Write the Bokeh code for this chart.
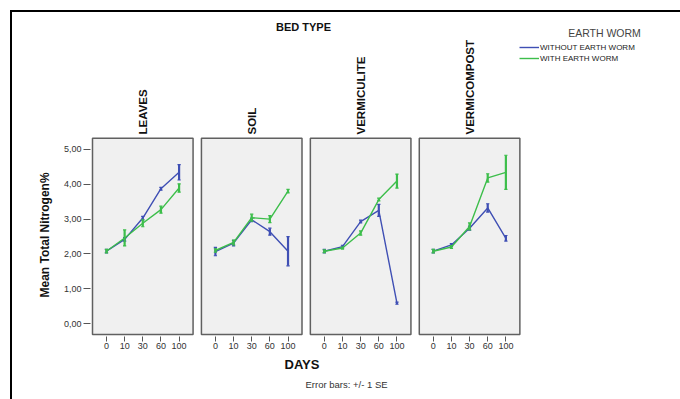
import math
from bokeh.plotting import figure
from bokeh.layouts import column, row
from bokeh.models import (Range1d, FixedTicker, Legend, LegendItem, ColumnDataSource,
                          Title, Spacer, Div)
from bokeh.embed import file_html
from bokeh.resources import INLINE

# ---------------- data ----------------
days = ["0", "10", "30", "60", "100"]
beds = ["LEAVES", "SOIL", "VERMICULITE", "VERMICOMPOST"]
y_ticks = [0, 1, 2, 3, 4, 5]
y_tick_labels = ["0,00", "1,00", "2,00", "3,00", "4,00", "5,00"]

leaves_without = [2.08, 2.42, 3.03, 3.87, 4.34]
soil_without = [2.07, 2.31, 2.98, 2.64, 2.08]
vermiculite_without = [2.08, 2.21, 2.93, 3.25, 0.59]
vermicompost_without = [2.08, 2.26, 2.74, 3.32, 2.45]

leaves_without_se = [0.05, 0.05, 0.05, 0.04, 0.22]
soil_without_se = [0.12, 0.08, 0.05, 0.10, 0.42]
vermiculite_without_se = [0.05, 0.04, 0.04, 0.17, 0.03]
vermicompost_without_se = [0.05, 0.04, 0.06, 0.12, 0.08]

leaves_with = [2.08, 2.46, 2.88, 3.27, 3.89]
soil_with = [2.10, 2.33, 3.04, 3.00, 3.80]
vermiculite_with = [2.08, 2.17, 2.60, 3.56, 4.09]
vermicompost_with = [2.08, 2.20, 2.79, 4.18, 4.34]

leaves_with_se = [0.05, 0.23, 0.10, 0.10, 0.12]
soil_with_se = [0.05, 0.07, 0.10, 0.10, 0.05]
vermiculite_with_se = [0.04, 0.03, 0.06, 0.04, 0.20]
vermicompost_with_se = [0.05, 0.04, 0.10, 0.12, 0.49]

without_series = [leaves_without, soil_without, vermiculite_without, vermicompost_without]
without_errs = [leaves_without_se, soil_without_se, vermiculite_without_se, vermicompost_without_se]
with_series = [leaves_with, soil_with, vermiculite_with, vermicompost_with]
with_errs = [leaves_with_se, soil_with_se, vermiculite_with_se, vermicompost_with_se]

# ---------------- styling / layout ----------------
BLUE = "#3F4FB4"
GREEN = "#3DBE4B"
FONT = "Liberation Sans"
STEP = 6.0          # spacing between panels in x units
PAD = 0.77          # panel padding around first/last category

OFF = 12                    # outer frame offset (page px)
FIG_W, FIG_H = 680 - OFF, 399 - OFF
FRAME_L, FRAME_B = 90, 336  # frame left / bottom in page px (frame top = OFF, right = 680)
PX_X = 18.155               # px per x unit
PX_Y = 34.9                 # px per y unit
X0 = -0.88
X1 = X0 + (680 - FRAME_L) / PX_X
Y0 = -0.364
Y1 = Y0 + (FRAME_B - OFF) / PX_Y


def xv(px):   # page pixel -> x value (label placement only)
    return X0 + (px - FRAME_L) / PX_X


def yv(py):   # page pixel -> y value (label placement only)
    return Y0 + (FRAME_B - py) / PX_Y


p = figure(width=FIG_W, height=FIG_H, output_backend="svg", toolbar_location=None,
           x_range=Range1d(X0, X1), y_range=Range1d(Y0, Y1),
           min_border_left=FRAME_L - OFF, min_border_right=0,
           min_border_top=0, min_border_bottom=399 - FRAME_B)
p.outline_line_color = None
p.background_fill_color = "white"
p.border_fill_color = "white"
p.xgrid.visible = False
p.ygrid.visible = False

panel_src = ColumnDataSource(dict(
    left=[k * STEP - PAD for k in range(len(beds))],
    right=[k * STEP + len(days) - 1 + PAD for k in range(len(beds))],
    bottom=[-0.307] * len(beds), top=[5.32] * len(beds)))
p.quad(left="left", right="right", bottom="bottom", top="top", source=panel_src,
       fill_color="#F0F0F0", line_color="#606060", line_width=1.5)

legend_r = []
for k, bed in enumerate(beds):
    xs = [k * STEP + i for i in range(len(days))]
    for series, errs, color in ((without_series[k], without_errs[k], BLUE),
                                (with_series[k], with_errs[k], GREEN)):
        r = p.line(xs, series, line_color=color, line_width=1.4)
        if k == 0:
            legend_r.append(r)
        lo = [m - e for m, e in zip(series, errs)]
        hi = [m + e for m, e in zip(series, errs)]
        p.segment(xs, lo, xs, hi, line_color=color, line_width=2.2)
        p.segment([x - 0.09 for x in xs], lo, [x + 0.09 for x in xs], lo, line_color=color, line_width=1.2)
        p.segment([x - 0.09 for x in xs], hi, [x + 0.09 for x in xs], hi, line_color=color, line_width=1.2)

# panel titles (vertical) and header texts
p.text(x=[k * STEP + (len(days) - 1) / 2 for k in range(len(beds))], y=[yv(134)] * len(beds),
       text=beds, angle=math.pi / 2, text_align="left", text_baseline="middle",
       text_font={"value": FONT}, text_font_style="bold", text_font_size="11.5px",
       text_color="#111")
p.text(x=[xv(303)], y=[yv(26)], text=["BED TYPE"], text_align="center",
       text_baseline="middle", text_font={"value": FONT}, text_font_style="bold",
       text_font_size="11px", text_color="#111")
p.text(x=[xv(604)], y=[yv(32)], text=["EARTH WORM"], text_align="center",
       text_baseline="middle", text_font={"value": FONT}, text_font_size="10.5px",
       text_color="#444")

legend = Legend(items=[LegendItem(label="WITHOUT EARTH WORM", renderers=[legend_r[0]]),
                       LegendItem(label="WITH EARTH WORM", renderers=[legend_r[1]])],
                location=(519 - FRAME_L, FRAME_B - 63), label_text_font=FONT,
                label_text_font_size="8px", label_text_color="#222", glyph_width=20,
                glyph_height=10, label_height=10, label_standoff=1, spacing=1, padding=0,
                margin=0, border_line_color=None, background_fill_alpha=0)
p.add_layout(legend)

# axes
p.xaxis.ticker = FixedTicker(ticks=[k * int(STEP) + i for k in range(len(beds)) for i in range(len(days))])
p.xaxis.major_label_overrides = {k * int(STEP) + i: d for k in range(len(beds)) for i, d in enumerate(days)}
p.xaxis.axis_line_color = None
p.xaxis.major_tick_in = 0
p.xaxis.major_tick_out = 5
p.xaxis.major_tick_line_color = "#555"
p.xaxis.minor_tick_line_color = None
p.xaxis.major_label_text_font = FONT
p.xaxis.major_label_text_font_size = "9px"
p.xaxis.major_label_text_color = "#333"
p.xaxis.major_label_standoff = 1

p.yaxis.ticker = FixedTicker(ticks=y_ticks)
p.yaxis.major_label_overrides = dict(zip(y_ticks, y_tick_labels))
p.yaxis.axis_line_color = None
p.yaxis.major_tick_in = 0
p.yaxis.major_tick_out = 7
p.yaxis.major_tick_line_color = "#555"
p.yaxis.minor_tick_line_color = None
p.yaxis.major_label_text_font = FONT
p.yaxis.major_label_text_font_size = "9px"
p.yaxis.major_label_text_color = "#333"
p.yaxis.major_label_standoff = 2

p.add_layout(Title(text="Mean Total Nitrogen%", align="left", text_font=FONT,
                   text_font_size="12px", text_font_style="bold", text_color="#111",
                   offset=FRAME_B - 297, standoff=18), "left")
p.add_layout(Title(text="DAYS", align="left", text_font=FONT, text_font_size="13px",
                   text_font_style="bold", text_color="#111", offset=284 - FRAME_L,
                   standoff=7), "below")
p.add_layout(Title(text="Error bars: +/- 1 SE", align="left", text_font=FONT,
                   text_font_size="9.5px", text_font_style="normal", text_color="#333",
                   offset=305 - FRAME_L, standoff=3), "below")

# outer frame lines (top and left) and page
top_line = Div(width=680 - OFF + 2, height=2, margin=0, styles={"background-color": "black"})
left_line = Div(width=2, height=FIG_H, margin=0, styles={"background-color": "black"})

page = column(
    Spacer(width=680, height=OFF - 2, margin=0),
    row(Spacer(width=OFF - 2, height=FIG_H + 2, margin=0),
        column(top_line, row(left_line, p))))

open("out.html", "w").write(file_html(page, INLINE))
